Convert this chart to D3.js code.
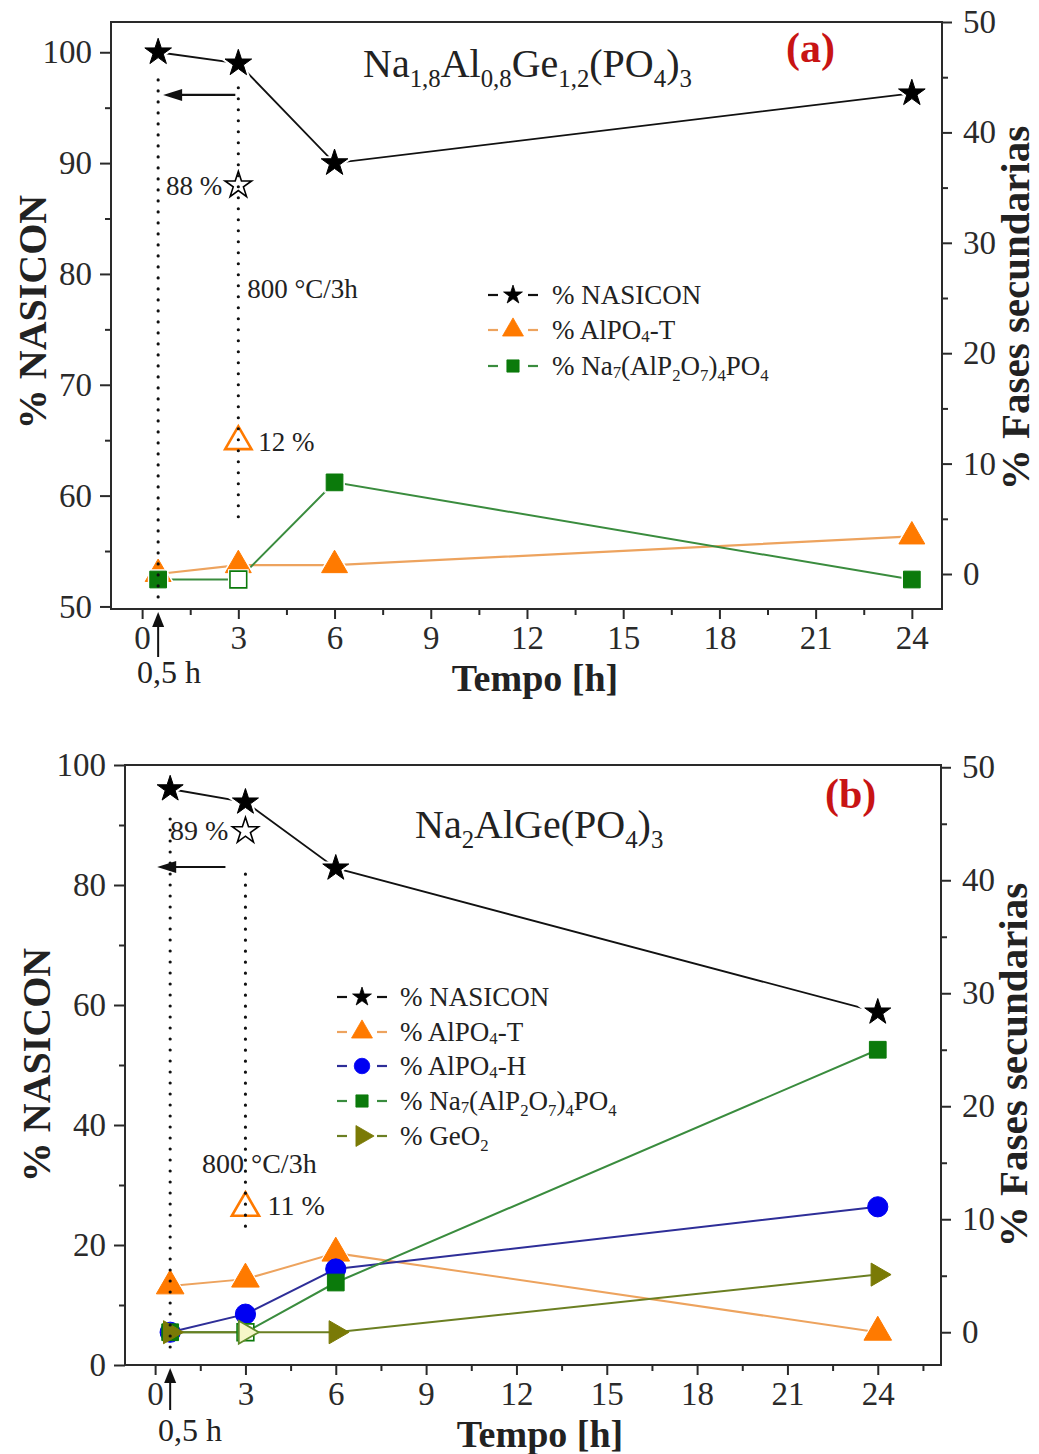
<!DOCTYPE html>
<html>
<head>
<meta charset="utf-8">
<script src="https://cdn.jsdelivr.net/npm/d3@7"></script>
<style>
  body { margin: 0; background: #fff; }
  svg text { font-family: "Liberation Serif", "Times New Roman", serif; }
</style>
</head>
<body>
<svg id="chart" width="1039" height="1454"></svg>
<script>
// ---- data -------------------------------------------------------------
const hours = [0.5, 3, 6, 24];

// (a) Na1,8Al0,8Ge1,2(PO4)3
const nasiconA = [100, 99.0, 90.0, 96.3];
const alpo4TA  = [0, 0.8, 0.8, 3.4];
const na7A     = [-0.5, -0.5, 8.3, -0.5];
const refNasiconA = 88;   // sample treated at 800 °C/3h
const refAlpo4TA  = 12;

// (b) Na2AlGe(PO4)3
const nasiconB = [96, 93.8, 82.8, 58.8];
const alpo4TB  = [4.1, 4.7, 7.0, 0];
const alpo4HB  = [0, 1.6, 5.6, 11.1];
const na7B     = [0, 0, 4.4, 25.0];
const geo2B    = [0, 0, 0, 5.1];
const refNasiconB = 89;
const refAlpo4TB  = 11;

const xTicks      = [0, 3, 6, 9, 12, 15, 18, 21, 24];
const xMinorTicks = [1.5, 4.5, 7.5, 10.5, 13.5, 16.5, 19.5, 22.5, 25.5];
const rightTicks  = [0, 10, 20, 30, 40, 50];
const rightMinor  = [5, 15, 25, 35, 45];
const leftTicksA  = [50, 60, 70, 80, 90, 100];
const leftMinorA  = [55, 65, 75, 85, 95];
const leftTicksB  = [0, 20, 40, 60, 80, 100];
const leftMinorB  = [10, 30, 50, 70, 90];

// ---- colours ----------------------------------------------------------
const C = {
  axis: "#2a2a2a",
  orange: "#ff7a00", orangeLine: "#eda35e",
  green: "#0b7a0b",  greenLine: "#3a8c3e",
  blue: "#0000f2",   blueLine: "#2e2e98",
  olive: "#7a7a06",  oliveLine: "#6b7f22",
  red: "#c81414"
};

const svg = d3.select("#chart");

// ---- helpers ----------------------------------------------------------
function richText(g, x, y, parts, o) {
  const t = g.append("text")
    .attr("x", x).attr("y", y)
    .attr("font-size", o.size)
    .attr("font-weight", o.bold ? "bold" : "normal")
    .attr("fill", o.fill || "#222")
    .attr("text-anchor", o.anchor || "start");
  if (o.rotate) t.attr("transform", `rotate(${o.rotate},${x},${y})`);
  let shift = 0;
  parts.forEach(p => {
    const [s, kind] = typeof p === "string" ? [p, null] : p;
    const target = kind === "sub" ? o.size * 0.24 : kind === "low" ? o.size * 0.1 : 0;
    const ts = t.append("tspan").text(s).attr("dy", target - shift);
    if (kind) ts.attr("font-size", o.size * 0.62);
    shift = target;
  });
  return t;
}

const shapes = {
  star: d3.symbolStar, tri: d3.symbolTriangle, sq: d3.symbolSquare,
  circ: d3.symbolCircle, right: d3.symbolTriangle
};
function marker(g, kind, x, y, size, fill, stroke, sw, halo) {
  const d = d3.symbol(shapes[kind], size)();
  const tr = `translate(${x},${y})` + (kind === "right" ? " rotate(90)" : "");
  if (halo) {
    g.append("path").attr("d", d).attr("transform", tr)
      .attr("fill", "#fff").attr("stroke", "#fff").attr("stroke-width", halo);
  }
  g.append("path").attr("d", d).attr("transform", tr)
    .attr("fill", fill).attr("stroke", stroke).attr("stroke-width", sw);
}

function axisStyle(sel, fontSize) {
  sel.attr("font-family", null).attr("font-size", fontSize);
  sel.selectAll("path.domain").remove();
  sel.selectAll("line").attr("stroke", C.axis).attr("stroke-width", 2);
  sel.selectAll("text").attr("fill", C.axis);
}

function drawAxes(g, x, yL, yR, t) {
  const [x0, x1] = x.range();
  const [y0, y1] = yL.range(); // y0 bottom, y1 top
  const minorX = xMinorTicks.filter(v => v > x.domain()[0] && v < x.domain()[1]);

  g.append("g").attr("transform", `translate(0,${y0})`)
    .call(d3.axisBottom(x).tickValues(minorX).tickSize(6).tickFormat(""))
    .call(s => axisStyle(s, 32));
  g.append("g").attr("transform", `translate(0,${y0})`)
    .call(d3.axisBottom(x).tickValues(xTicks).tickSize(10).tickPadding(t.xPad).tickFormat(d3.format("d")))
    .call(s => axisStyle(s, 33));

  g.append("g").attr("transform", `translate(${x0},0)`)
    .call(d3.axisLeft(yL).tickValues(t.leftMinor).tickSize(6).tickFormat(""))
    .call(s => axisStyle(s, 32));
  g.append("g").attr("transform", `translate(${x0},0)`)
    .call(d3.axisLeft(yL).tickValues(t.left).tickSize(11).tickPadding(8).tickFormat(d3.format("d")))
    .call(s => axisStyle(s, 33));

  g.append("g").attr("transform", `translate(${x1},0)`)
    .call(d3.axisRight(yR).tickValues(rightMinor).tickSize(6).tickFormat(""))
    .call(s => axisStyle(s, 32));
  g.append("g").attr("transform", `translate(${x1},0)`)
    .call(d3.axisRight(yR).tickValues(rightTicks).tickSize(10).tickPadding(11).tickFormat(d3.format("d")))
    .call(s => axisStyle(s, 33));

  g.append("rect")
    .attr("x", x0).attr("y", y1).attr("width", x1 - x0).attr("height", y0 - y1)
    .attr("fill", "none").attr("stroke", C.axis).attr("stroke-width", 2);
}

function seriesLine(g, x, y, vals, color, w) {
  const line = d3.line().x((d, i) => x(hours[i])).y(d => y(d));
  g.append("path").datum(vals).attr("d", line)
    .attr("fill", "none").attr("stroke", color).attr("stroke-width", w || 2);
}

function dotted(g, xPos, yTop, yBot) {
  g.append("line").attr("x1", xPos).attr("x2", xPos).attr("y1", yTop).attr("y2", yBot)
    .attr("stroke", "#111").attr("stroke-width", 3.2)
    .attr("stroke-linecap", "round").attr("stroke-dasharray", "0 11");
}

function arrowLeft(g, xTail, xTip, yPos) {
  g.append("line").attr("x1", xTail).attr("x2", xTip + 14).attr("y1", yPos).attr("y2", yPos)
    .attr("stroke", "#111").attr("stroke-width", 2.2);
  g.append("path")
    .attr("d", `M${xTip},${yPos} L${xTip + 19},${yPos - 6} L${xTip + 19},${yPos + 6} Z`)
    .attr("fill", "#111");
}

function arrowUp(g, xPos, yTip, yTail) {
  g.append("line").attr("x1", xPos).attr("x2", xPos).attr("y1", yTail).attr("y2", yTip + 10)
    .attr("stroke", "#111").attr("stroke-width", 2);
  g.append("path")
    .attr("d", `M${xPos},${yTip} L${xPos - 6},${yTip + 15} L${xPos + 6},${yTip + 15} Z`)
    .attr("fill", "#111");
}

function legendRow(g, cx, y, textX, kind, size, fill, lineColor, parts) {
  [[-25, -15], [15, 25]].forEach(([a, b]) =>
    g.append("line").attr("x1", cx + a).attr("x2", cx + b).attr("y1", y).attr("y2", y)
      .attr("stroke", lineColor).attr("stroke-width", 2.2));
  marker(g, kind, cx, y, size, fill, fill, 0.8, 0);
  richText(g, textX, y + 9, parts, { size: 27 });
}

// ---- panel (a) --------------------------------------------------------
const gA = svg.append("g");
const xA  = d3.scaleLinear().domain([-0.97, 24.94]).range([111, 942]);
const yLA = d3.scaleLinear().domain([49.77, 102.73]).range([609, 22]);
const yRA = d3.scaleLinear().domain([-3.17, 50]).range([609, 22]);

drawAxes(gA, xA, yLA, yRA, { left: leftTicksA, leftMinor: leftMinorA, xPad: 7 });

seriesLine(gA, xA, yRA, alpo4TA, C.orangeLine, 2.2);
seriesLine(gA, xA, yRA, na7A, C.greenLine, 2);
seriesLine(gA, xA, yLA, nasiconA, "#111", 1.8);

hours.forEach((h, i) => marker(gA, "tri", xA(h), yRA(alpo4TA[i]), 290, C.orange, C.orange, 1, 4));
hours.forEach((h, i) => {
  const hollow = h === 3;
  marker(gA, "sq", xA(h), yRA(na7A[i]), 280, hollow ? "#fff" : C.green, C.green, hollow ? 1.6 : 1, 4);
});
hours.forEach((h, i) => marker(gA, "star", xA(h), yLA(nasiconA[i]), 220, "#000", "#000", 1, 5));

// reference points after 800 °C/3h
marker(gA, "star", xA(3), yLA(refNasiconA), 220, "#fff", "#000", 1.6, 0);
marker(gA, "tri", xA(3), yRA(refAlpo4TA), 300, "#fff", C.orange, 2.6, 0);

dotted(gA, xA(0.5), yLA(97.5), yLA(50.3));
dotted(gA, xA(3), yLA(96.8), yLA(57.6));
arrowLeft(gA, xA(3) - 3, xA(0.5) + 5, yLA(96.15));
arrowUp(gA, xA(0.5), 612, 657);

richText(gA, xA(3) - 16, yLA(refNasiconA) + 10, [`${refNasiconA} %`], { size: 27, anchor: "end" });
richText(gA, xA(3) + 20, yRA(refAlpo4TA) + 9, [`${refAlpo4TA} %`], { size: 27 });
richText(gA, xA(3) + 9, 298, ["800 °C/3h"], { size: 27 });
richText(gA, 137, 683, ["0,5 h"], { size: 32 });

richText(gA, 363, 77,
  ["Na", ["1,8", "sub"], "Al", ["0,8", "sub"], "Ge", ["1,2", "sub"], "(PO", ["4", "sub"], ")", ["3", "sub"]],
  { size: 40 });
richText(gA, 786, 62, ["(a)"], { size: 42, bold: true, fill: C.red });

richText(gA, 535, 691, ["Tempo [h]"], { size: 38, bold: true, anchor: "middle" });
richText(gA, 46, 312, ["% NASICON"], { size: 40, bold: true, anchor: "middle", rotate: -90 });
richText(gA, 1029, 308, ["% Fases secundarias"], { size: 41, bold: true, anchor: "middle", rotate: -90 });

legendRow(gA, 513, 295, 552, "star", 110, "#000", "#111", ["% NASICON"]);
legendRow(gA, 513, 330, 552, "tri", 190, C.orange, C.orangeLine, ["% AlPO", ["4", "low"], "-T"]);
legendRow(gA, 513, 366, 552, "sq", 150, C.green, C.greenLine,
  ["% Na", ["7", "low"], "(AlP", ["2", "sub"], "O", ["7", "sub"], ")", ["4", "sub"], "PO", ["4", "sub"]]);

// ---- panel (b) --------------------------------------------------------
const gB = svg.append("g");
const xB  = d3.scaleLinear().domain([-1.0, 26.1]).range([125, 941]);
const yLB = d3.scaleLinear().domain([0, 100]).range([1365, 765]);
const yRB = d3.scaleLinear().domain([-2.9, 50.2]).range([1365, 765]);

drawAxes(gB, xB, yLB, yRB, { left: leftTicksB, leftMinor: leftMinorB, xPad: 7 });

seriesLine(gB, xB, yRB, alpo4TB, C.orangeLine, 2);
seriesLine(gB, xB, yRB, alpo4HB, C.blueLine, 2);
seriesLine(gB, xB, yRB, na7B, C.greenLine, 2);
seriesLine(gB, xB, yRB, geo2B, C.oliveLine, 2);
seriesLine(gB, xB, yLB, nasiconB, "#111", 1.8);

hours.forEach((h, i) => marker(gB, "tri", xB(h), yRB(alpo4TB[i]), 330, C.orange, C.orange, 1, 3));
hours.forEach((h, i) => marker(gB, "circ", xB(h), yRB(alpo4HB[i]), 320, C.blue, C.blue, 1, 0));
hours.forEach((h, i) => {
  const hollow = h === 3;
  marker(gB, "sq", xB(h), yRB(na7B[i]), 280, hollow ? "#fff" : C.green, C.green, hollow ? 1.6 : 1, 0);
});
hours.forEach((h, i) => {
  const hollow = h === 3;
  marker(gB, "right", xB(h), yRB(geo2B[i]), 230, hollow ? "#f6f6c8" : C.olive, hollow ? "#5f8a2a" : C.olive, hollow ? 1.8 : 1, 0);
});
hours.forEach((h, i) => marker(gB, "star", xB(h), yLB(nasiconB[i]), 210, "#000", "#000", 1, 5));

marker(gB, "star", xB(3), yLB(refNasiconB), 210, "#fff", "#000", 1.6, 0);
marker(gB, "tri", xB(3), yRB(refAlpo4TB), 320, "#fff", C.orange, 2.6, 0);

dotted(gB, xB(0.5), yLB(91), yLB(2.2));
dotted(gB, xB(3), yLB(81.8), yLB(22.2));
arrowLeft(gB, xB(3) - 20, xB(0.5) - 13, yLB(83));
arrowUp(gB, xB(0.5), 1368, 1410);

richText(gB, xB(3) - 17, yLB(refNasiconB) + 9, [`${refNasiconB} %`], { size: 28, anchor: "end" });
richText(gB, xB(3) + 22, yRB(refAlpo4TB) + 7, [`${refAlpo4TB} %`], { size: 28 });
richText(gB, 202, 1173, ["800 °C/3h"], { size: 28 });
richText(gB, 158, 1441, ["0,5 h"], { size: 32 });

richText(gB, 415, 838,
  ["Na", ["2", "sub"], "AlGe(PO", ["4", "sub"], ")", ["3", "sub"]],
  { size: 40 });
richText(gB, 825, 808, ["(b)"], { size: 42, bold: true, fill: C.red });

richText(gB, 540, 1447, ["Tempo [h]"], { size: 38, bold: true, anchor: "middle" });
richText(gB, 50, 1065, ["% NASICON"], { size: 40, bold: true, anchor: "middle", rotate: -90 });
richText(gB, 1027, 1065, ["% Fases secundarias"], { size: 41, bold: true, anchor: "middle", rotate: -90 });

legendRow(gB, 362, 997, 400, "star", 110, "#000", "#111", ["% NASICON"]);
legendRow(gB, 362, 1032, 400, "tri", 190, C.orange, C.orangeLine, ["% AlPO", ["4", "low"], "-T"]);
legendRow(gB, 362, 1066, 400, "circ", 190, C.blue, C.blueLine, ["% AlPO", ["4", "low"], "-H"]);
legendRow(gB, 362, 1101, 400, "sq", 150, C.green, C.greenLine,
  ["% Na", ["7", "low"], "(AlP", ["2", "sub"], "O", ["7", "sub"], ")", ["4", "sub"], "PO", ["4", "sub"]]);
legendRow(gB, 362, 1136, 400, "right", 190, C.olive, C.oliveLine, ["% GeO", ["2", "sub"]]);
</script>
</body>
</html>
